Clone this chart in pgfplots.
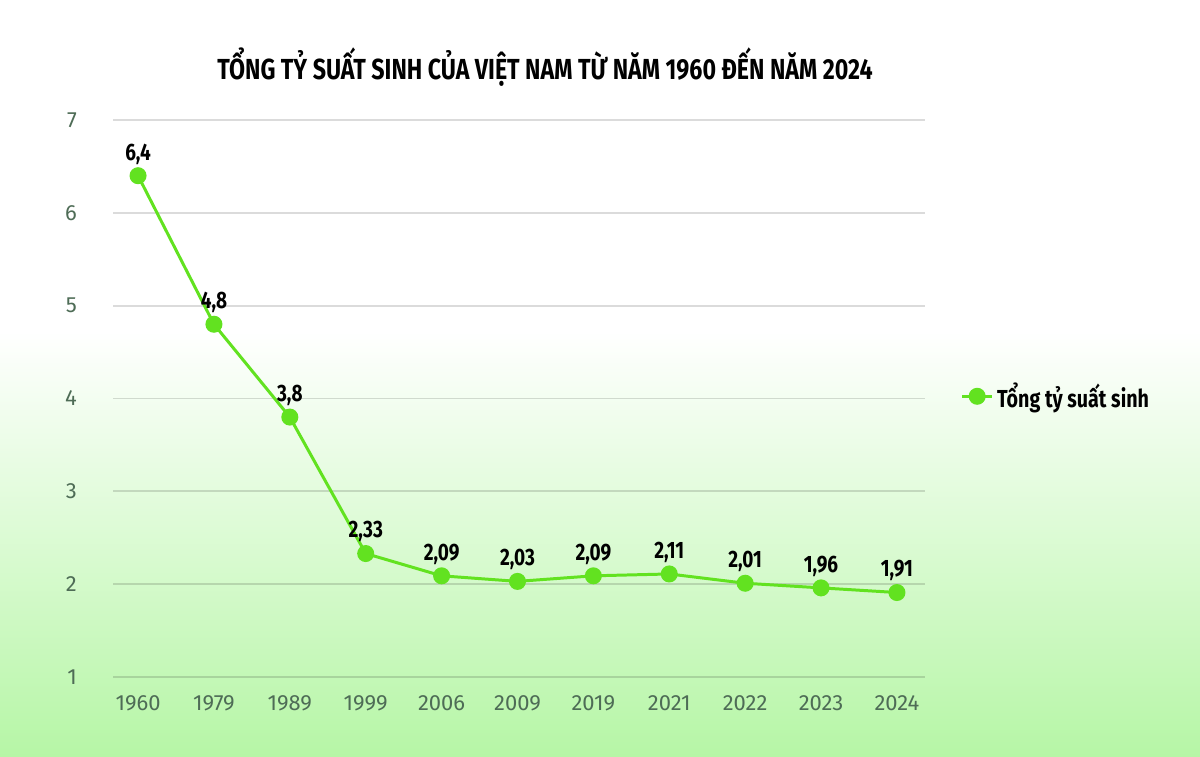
\documentclass[border=0pt]{standalone}
\usepackage{fontspec}
\setmainfont{Fira Sans}
\newfontfamily\condfont{Fira Sans}[FakeStretch=0.80]
\usepackage{pgfplots}
\pgfplotsset{compat=1.18}

\definecolor{linegreen}{RGB}{98,226,32}
\definecolor{ticktext}{RGB}{78,108,86}
\definecolor{bggreen}{RGB}{182,246,166}

\pgfplotstableread{
x year val lab
0 1960 6.4 6,4
1 1979 4.8 4,8
2 1989 3.8 3,8
3 1999 2.33 2,33
4 2006 2.09 2,09
5 2009 2.03 2,03
6 2019 2.09 2,09
7 2021 2.11 2,11
8 2022 2.01 2,01
9 2023 1.96 1,96
10 2024 1.91 1,91
}\tfr

\begin{document}
\begin{tikzpicture}
% background, 1200 x 756 px at 0.02cm per px
\fill[white] (0cm,8.5cm) rectangle (24cm,15.12cm);
\shade[top color=white, bottom color=bggreen] (0cm,0cm) rectangle (24cm,8.5cm);
\useasboundingbox (0cm,0cm) rectangle (24cm,15.12cm);

\node[font=\condfont\bfseries\fontsize{16.5}{20}\selectfont] at (10.9cm,13.78cm) {TỔNG TỶ SUẤT SINH CỦA VIỆT NAM TỪ NĂM 1960 ĐẾN NĂM 2024};

\begin{axis}[
    at={(2.26cm,1.58cm)}, anchor=south west,
    scale only axis,
    width=16.24cm, height=11.14cm,
    xmin=-0.33, xmax=10.37,
    ymin=1, ymax=7,
    xtick=data,
    xticklabels={1960,1979,1989,1999,2006,2009,2019,2021,2022,2023,2024},
    ytick={1,2,3,4,5,6,7},
    axis line style={draw=none},
    tick style={draw=none},
    ymajorgrids,
    grid style={draw=black, opacity=0.14, line width=1pt},
    /pgf/number format/assume math mode=true,
    ticklabel style={font=\fontsize{12.5}{14}\selectfont, text=ticktext},
    xticklabel style={yshift=-0.25cm},
    yticklabel style={xshift=-0.6cm},
    legend style={at={(1.037,0.504)}, anchor=west, draw=none, fill=none,
        font=\condfont\bfseries\fontsize{14}{16}\selectfont},
    legend image code/.code={
        \draw[linegreen, line width=1.7pt] (0cm,0cm) -- (0.6cm,0cm);
        \fill[linegreen] (0.3cm,0cm) circle (0.14cm);
    },
    clip=false,
]
\addplot[linegreen, line width=1.7pt, mark=*, mark size=0.14cm,
    mark options={fill=linegreen, draw=linegreen},
    nodes near coords, point meta=explicit symbolic,
    every node near coord/.append style={anchor=south, yshift=0.08cm,
        font=\condfont\bfseries\fontsize{13.5}{15}\selectfont, text=black}]
    table[x=x, y=val, meta=lab]{\tfr};
\addlegendentry{Tổng tỷ suất sinh}
\end{axis}
\end{tikzpicture}
\end{document}
